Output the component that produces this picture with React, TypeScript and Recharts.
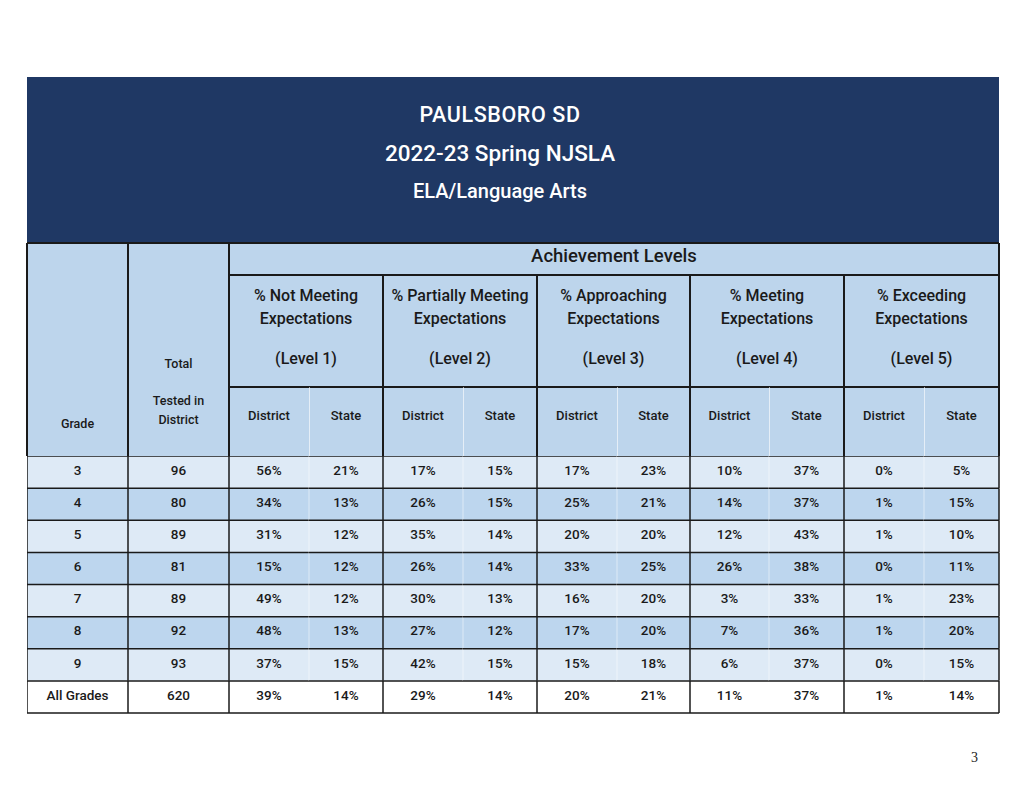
import React from 'react'
import { BarChart, Bar, XAxis, YAxis, LabelList } from 'recharts'

const grades = ['3', '4', '5', '6', '7', '8', '9', 'All Grades']
const totalTested = [96, 80, 89, 81, 89, 92, 93, 620]
const level1District = [56, 34, 31, 15, 49, 48, 37, 39]
const level1State = [21, 13, 12, 12, 12, 13, 15, 14]
const level2District = [17, 26, 35, 26, 30, 27, 42, 29]
const level2State = [15, 15, 14, 14, 13, 12, 15, 14]
const level3District = [17, 25, 20, 33, 16, 17, 15, 20]
const level3State = [23, 21, 20, 25, 20, 20, 18, 21]
const level4District = [10, 14, 12, 26, 3, 7, 6, 11]
const level4State = [37, 37, 43, 38, 33, 36, 37, 37]
const level5District = [0, 1, 1, 0, 1, 1, 0, 1]
const level5State = [5, 15, 10, 11, 23, 20, 15, 14]

const levelTitles = [
  ['% Not Meeting', 'Expectations', '(Level 1)'],
  ['% Partially Meeting', 'Expectations', '(Level 2)'],
  ['% Approaching', 'Expectations', '(Level 3)'],
  ['% Meeting', 'Expectations', '(Level 4)'],
  ['% Exceeding', 'Expectations', '(Level 5)'],
]

// column widths: Grade, Total, then District/State for each level
const colWidths = [101, 101, 80, 74, 80, 74, 80, 73, 79, 75, 80, 75]

const NAVY = '#1f3864'
const HEAD = '#bdd5ec'
const ROW_LIGHT = '#deeaf6'
const ROW_DARK = '#bdd6ee'
const LINE = '#1a1a1a'
const FONT = 'Roboto, "Liberation Sans", Arial, sans-serif'

const TABLE_LEFT = 27
const colX: number[] = []
colWidths.reduce((acc, w) => {
  colX.push(acc)
  return acc + w
}, TABLE_LEFT)
const TABLE_RIGHT = TABLE_LEFT + colWidths.reduce((a, b) => a + b, 0)

const pct = (v: number) => `${v}%`

const columns = [
  grades,
  totalTested.map(String),
  level1District.map(pct), level1State.map(pct),
  level2District.map(pct), level2State.map(pct),
  level3District.map(pct), level3State.map(pct),
  level4District.map(pct), level4State.map(pct),
  level5District.map(pct), level5State.map(pct),
]

const tableData = grades.map((g, r) => {
  const row: Record<string, any> = { grade: g, row: r }
  columns.forEach((col, c) => {
    row[`w${c}`] = colWidths[c]
    row[`t${c}`] = col[r]
  })
  return row
})

const rowFill = (r: number) => (r === grades.length - 1 ? '#ffffff' : r % 2 === 0 ? ROW_LIGHT : ROW_DARK)

function CellShape(props: any) {
  const { x, y, width, height, payload, col } = props
  const r = payload.row
  const isLast = r === grades.length - 1
  const minor = col >= 3 && col % 2 === 1
  return (
    <g>
      <rect x={x} y={y} width={width} height={height} fill={rowFill(r)} />
      {minor && !isLast && (
        <line x1={x} y1={y} x2={x} y2={y + height} stroke="#ffffff" strokeOpacity={0.5} strokeWidth={1} />
      )}
      {!minor && <line x1={x} y1={y} x2={x} y2={y + height} stroke={LINE} strokeWidth={1.5} />}
      <line x1={x} y1={y} x2={x + width} y2={y} stroke={LINE} strokeWidth={1.5} />
      {isLast && <line x1={x} y1={y + height} x2={x + width} y2={y + height} stroke={LINE} strokeWidth={1.5} />}
      {col === colWidths.length - 1 && (
        <line x1={x + width} y1={y} x2={x + width} y2={y + height} stroke={LINE} strokeWidth={1.5} />
      )}
    </g>
  )
}

function Txt({ cx, cy, children, size = 13, color = '#1a1a1a', weight = 500, w = 300, ls = 0 }: any) {
  return (
    <div
      style={{
        position: 'absolute',
        left: cx - w / 2,
        top: cy - 12,
        width: w,
        height: 24,
        lineHeight: '24px',
        textAlign: 'center',
        fontSize: size,
        fontWeight: weight,
        letterSpacing: ls,
        color,
        fontFamily: FONT,
        whiteSpace: 'nowrap',
      }}
    >
      {children}
    </div>
  )
}

function HLine({ x1, x2, y, color = LINE, t = 1.5 }: any) {
  return <div style={{ position: 'absolute', left: x1, top: y - t / 2, width: x2 - x1, height: t, background: color }} />
}

function VLine({ x, y1, y2, color = LINE, t = 1.5 }: any) {
  return <div style={{ position: 'absolute', left: x - t / 2, top: y1, width: t, height: y2 - y1, background: color }} />
}

export default function App() {
  const headTop = 243
  const levelTop = 275
  const subTop = 387
  const bodyTop = 456
  const bodyBottom = 713
  const groupStarts = [2, 4, 6, 8, 10].map((c) => colX[c])
  const groupCenters = [2, 4, 6, 8, 10].map((c) => (colX[c] + colX[c] + colWidths[c] + colWidths[c + 1]) / 2)

  return (
    <div style={{ position: 'absolute', left: 0, top: 0, width: 1024, height: 791, background: '#ffffff', overflow: 'hidden' }}>
      {/* title block */}
      <div style={{ position: 'absolute', left: TABLE_LEFT, top: 77, width: TABLE_RIGHT - TABLE_LEFT, height: headTop - 77, background: NAVY }} />
      <Txt cx={500} cy={115} size={21.5} ls={0.6} color="#ffffff">PAULSBORO SD</Txt>
      <Txt cx={500} cy={153} size={22.5} color="#ffffff">2022-23 Spring NJSLA</Txt>
      <Txt cx={500} cy={191} size={20} color="#ffffff">ELA/Language Arts</Txt>

      {/* header block */}
      <div style={{ position: 'absolute', left: TABLE_LEFT, top: headTop, width: TABLE_RIGHT - TABLE_LEFT, height: bodyTop - headTop, background: HEAD }} />
      <Txt cx={colX[0] + colWidths[0] / 2} cy={424} size={12.5}>Grade</Txt>
      <Txt cx={colX[1] + colWidths[1] / 2} cy={364} size={12.5}>Total</Txt>
      <Txt cx={colX[1] + colWidths[1] / 2} cy={401} size={12.5}>Tested in</Txt>
      <Txt cx={colX[1] + colWidths[1] / 2} cy={420} size={12.5}>District</Txt>
      <Txt cx={(colX[2] + TABLE_RIGHT) / 2} cy={256} size={18.5}>Achievement Levels</Txt>
      {levelTitles.map((lines, i) => (
        <React.Fragment key={i}>
          <Txt cx={groupCenters[i]} cy={296} size={16}>{lines[0]}</Txt>
          <Txt cx={groupCenters[i]} cy={319} size={16}>{lines[1]}</Txt>
          <Txt cx={groupCenters[i]} cy={359} size={16}>{lines[2]}</Txt>
          <Txt cx={groupStarts[i] + colWidths[2 + i * 2] / 2} cy={416} size={13}>District</Txt>
          <Txt cx={groupStarts[i] + colWidths[2 + i * 2] + colWidths[3 + i * 2] / 2} cy={416} size={13}>State</Txt>
        </React.Fragment>
      ))}
      <HLine x1={TABLE_LEFT} x2={TABLE_RIGHT} y={headTop} />
      <HLine x1={colX[2]} x2={TABLE_RIGHT} y={levelTop} />
      <HLine x1={colX[2]} x2={TABLE_RIGHT} y={subTop} />
      <VLine x={TABLE_LEFT} y1={headTop} y2={bodyTop} />
      <VLine x={colX[1]} y1={headTop} y2={bodyTop} />
      <VLine x={colX[2]} y1={headTop} y2={bodyTop} />
      {groupStarts.slice(1).map((x, i) => (
        <VLine key={i} x={x} y1={levelTop} y2={bodyTop} />
      ))}
      {groupStarts.map((x, i) => (
        <VLine key={`m${i}`} x={x + colWidths[2 + i * 2]} y1={subTop} y2={bodyTop} color="rgba(255,255,255,0.6)" t={1} />
      ))}
      <VLine x={TABLE_RIGHT} y1={headTop} y2={bodyTop} />

      {/* body rows */}
      <div style={{ position: 'absolute', left: TABLE_LEFT, top: bodyTop }}>
        <BarChart
          width={TABLE_RIGHT - TABLE_LEFT + 2}
          height={bodyBottom - bodyTop + 2}
          data={tableData}
          layout="vertical"
          barCategoryGap={0}
          margin={{ top: 0, right: 2, bottom: 2, left: 0 }}
        >
          <XAxis type="number" hide domain={[0, TABLE_RIGHT - TABLE_LEFT]} />
          <YAxis type="category" dataKey="grade" hide />
          {colWidths.map((_, c) => (
            <Bar
              key={c}
              dataKey={`w${c}`}
              stackId="row"
              isAnimationActive={false}
              shape={(p: any) => <CellShape {...p} col={c} />}
            >
              <LabelList
                dataKey={`t${c}`}
                position="center"
                fill="#1a1a1a"
                fontSize={13.5}
                fontWeight={500}
                fontFamily={FONT}
                offset={0}
                dy={-2}
              />
            </Bar>
          ))}
        </BarChart>
      </div>

      <div style={{ position: 'absolute', left: 971, top: 750, width: 20, fontSize: 14, fontFamily: 'serif', color: '#222' }}>3</div>
    </div>
  )
}
